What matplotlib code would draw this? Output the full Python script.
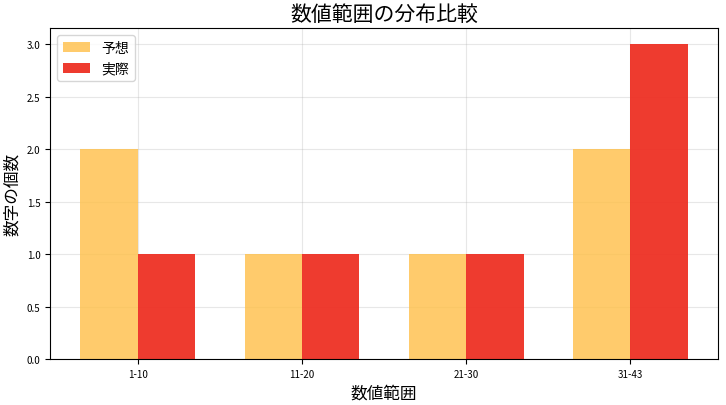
import matplotlib
matplotlib.use("Agg")
import matplotlib.pyplot as plt
import numpy as np

plt.rcParams['font.family'] = ['Noto Sans CJK JP', 'DejaVu Sans']

categories = ['1-10', '11-20', '21-30', '31-43']
expected = [2, 1, 1, 2]
actual = [1, 1, 1, 3]

fig = plt.figure(figsize=(7.26, 4.06), dpi=100)
ax = fig.add_axes([0.069, 0.113, 0.920, 0.815])
x = np.arange(len(categories))
w = 0.35
ax.bar(x - w/2, expected, w, color='#FFBF47', alpha=0.8, label='予想')
ax.bar(x + w/2, actual, w, color='#EE3024', alpha=0.95, label='実際')
ax.set_xticks(x)
ax.set_xticklabels(categories, fontsize=7)
ax.tick_params(axis='y', labelsize=7)
ax.set_ylim(0, 3.15)
ax.set_yticks(np.arange(0, 3.01, 0.5))
ax.set_yticklabels([f'{v:.1f}' for v in np.arange(0, 3.01, 0.5)])
ax.grid(True, alpha=0.3)
ax.set_axisbelow(True)
ax.set_xlabel('数値範囲', fontsize=12)
ax.set_ylabel('数字の個数', fontsize=12)
ax.set_title('数値範囲の分布比較', fontsize=15)
ax.legend(loc='upper left', fontsize=10)
fig.savefig('out.png', dpi=100)
